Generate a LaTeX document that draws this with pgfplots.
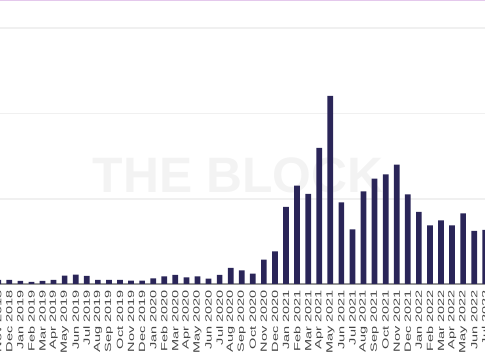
\documentclass[border=0pt]{standalone}
\usepackage{fontspec}
\setmainfont{Liberation Sans}
\usepackage{pgfplots}
\pgfplotsset{compat=1.18}
\usepackage{graphicx}
\definecolor{barc}{RGB}{42,37,88}
\definecolor{gridc}{RGB}{240,240,240}
\definecolor{topc}{RGB}{228,200,236}
\definecolor{axc}{RGB}{150,150,150}
\definecolor{labc}{RGB}{70,70,70}
\definecolor{wmc}{RGB}{243,243,243}
\newcommand{\tl}[1]{\scalebox{1.62}[1]{#1}}
\begin{document}
\begin{tikzpicture}
\path[use as bounding box] (0,0) rectangle (485bp,360bp);
\node[text=wmc, font=\fontsize{50}{50}\selectfont\bfseries] at (238bp,185bp) {THE BLOCK};
\begin{axis}[
  at={(-7.3bp,76bp)}, anchor=south west,
  scale only axis, width=498.1bp, height=284bp,
  xmin=-0.5, xmax=44.5, ymin=0, ymax=284,
  axis lines*=left,
  y axis line style={draw=none},
  x axis line style={draw=axc, line width=1.3bp},
  major tick length=0pt,
  ytick={85,170.5,256}, yticklabels={},
  ymajorgrids, grid style={draw=gridc, line width=1.5bp},
  xtick={0,...,44},
  xticklabels={\tl{Nov 2018},\tl{Dec 2018},\tl{Jan 2019},\tl{Feb 2019},\tl{Mar 2019},\tl{Apr 2019},\tl{May 2019},\tl{Jun 2019},\tl{Jul 2019},\tl{Aug 2019},\tl{Sep 2019},\tl{Oct 2019},\tl{Nov 2019},\tl{Dec 2019},\tl{Jan 2020},\tl{Feb 2020},\tl{Mar 2020},\tl{Apr 2020},\tl{May 2020},\tl{Jun 2020},\tl{Jul 2020},\tl{Aug 2020},\tl{Sep 2020},\tl{Oct 2020},\tl{Nov 2020},\tl{Dec 2020},\tl{Jan 2021},\tl{Feb 2021},\tl{Mar 2021},\tl{Apr 2021},\tl{May 2021},\tl{Jun 2021},\tl{Jul 2021},\tl{Aug 2021},\tl{Sep 2021},\tl{Oct 2021},\tl{Nov 2021},\tl{Dec 2021},\tl{Jan 2022},\tl{Feb 2022},\tl{Mar 2022},\tl{Apr 2022},\tl{May 2022},\tl{Jun 2022},\tl{Jul 2022}},
  x tick label style={rotate=90, anchor=east, inner xsep=6bp, inner ysep=0pt, text=labc, font=\fontsize{9}{9}\selectfont},
  clip=true,
]
\addplot[ybar, bar width=5.7bp, fill=barc, draw=none] coordinates {
(0,4) (1,4) (2,3) (3,2) (4,3) (5,4) (6,8.4) (7,9.4) (8,8) (9,4)
(10,4) (11,4) (12,3.3) (13,3.3) (14,5.7) (15,7.7) (16,9) (17,6.7) (18,7.7) (19,5.3)
(20,9) (21,16) (22,13.7) (23,10.3) (24,24.3) (25,32.7) (26,77) (27,98.3) (28,90) (29,136)
(30,188) (31,81.6) (32,54.6) (33,92.6) (34,105.3) (35,109.7) (36,119.3) (37,89.7) (38,72) (39,58.7)
(40,63.7) (41,58.7) (42,70.7) (43,53) (44,54)
};
\end{axis}
\fill[topc] (0,359bp) rectangle (485bp,360bp);
\end{tikzpicture}
\end{document}
